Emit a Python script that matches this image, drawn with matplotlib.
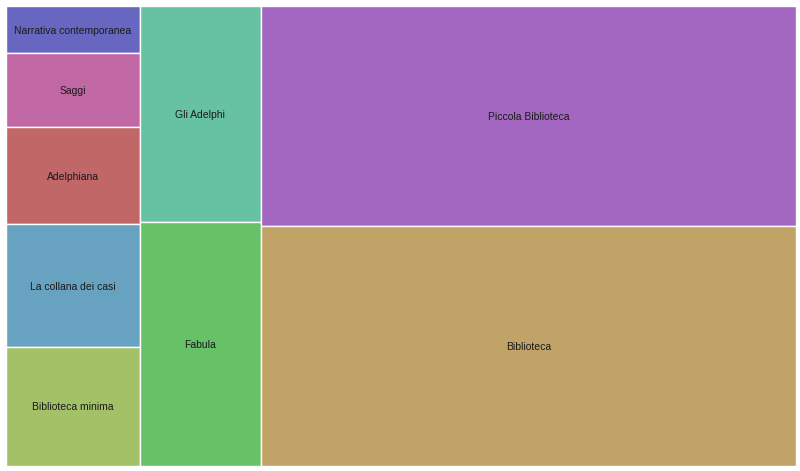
import colorsys
import matplotlib
matplotlib.use("Agg")
import matplotlib.pyplot as plt
from matplotlib.patches import Rectangle

# Data (order as drawn: top-to-bottom, left-to-right)
categories = ["Narrativa contemporanea", "Saggi", "Adelphiana", "La collana dei casi",
              "Biblioteca minima", "Gli Adelphi", "Fabula", "Piccola Biblioteca", "Biblioteca"]
values = [35, 54, 72, 90, 88, 144, 162, 649, 706]

PHI = (1 + 5 ** 0.5) / 2


def squarify_ratio(vals, x0, y0, x1, y1, ratio=PHI):
    """d3-style squarified treemap layout."""
    n = len(vals)
    rects = [None] * n
    value = float(sum(vals))
    i0 = 0
    while i0 < n:
        dx, dy = x1 - x0, y1 - y0
        i1 = i0
        s = vals[i1]
        i1 += 1
        mn = mx = s
        alpha = max(dy / dx, dx / dy) / (value * ratio)
        beta = s * s * alpha
        minr = max(mx / beta, beta / mn)
        while i1 < n:
            v = vals[i1]
            s2 = s + v
            mn2, mx2 = min(mn, v), max(mx, v)
            beta = s2 * s2 * alpha
            nr = max(mx2 / beta, beta / mn2)
            if nr > minr:
                break
            s, mn, mx, minr = s2, mn2, mx2, nr
            i1 += 1
        row = range(i0, i1)
        if dx < dy:
            h = dy * s / value
            xx = x0
            for i in row:
                w = dx * vals[i] / s
                rects[i] = (xx, y0, w, h)
                xx += w
            y0 += h
        else:
            w = dx * s / value
            yy = y0
            for i in row:
                h = dy * vals[i] / s
                rects[i] = (x0, yy, w, h)
                yy += h
            x0 += w
        value -= s
        i0 = i1
    return rects


fig = plt.figure(figsize=(8.0, 4.71), dpi=100)
left, bottom = 6 / 800, 5 / 471
width, height = 790 / 800, 460 / 471
ax = fig.add_axes([left, bottom, width, height])

W = fig.get_figwidth() * fig.dpi * width
H = fig.get_figheight() * fig.dpi * height
rects = squarify_ratio(values, 0.0, 0.0, W, H)

# Colours: hls palette assigned in alphabetical order of the categories
names_sorted = sorted(categories)
palette = {name: colorsys.hls_to_rgb(i / len(names_sorted), 0.58, 0.42)
           for i, name in enumerate(names_sorted)}

for name, (x, y, w, h) in zip(categories, rects):
    ax.add_patch(Rectangle((x, y), w, h, facecolor=palette[name],
                           edgecolor="white", linewidth=1.0))
    ax.text(x + w / 2, y + h / 2, name, ha="center", va="center_baseline",
            fontsize=7.5, family="Liberation Sans", color="#1a1a1a")

ax.set_xlim(0, W)
ax.set_ylim(H, 0)
ax.axis("off")

fig.savefig("out.png", dpi=100)
